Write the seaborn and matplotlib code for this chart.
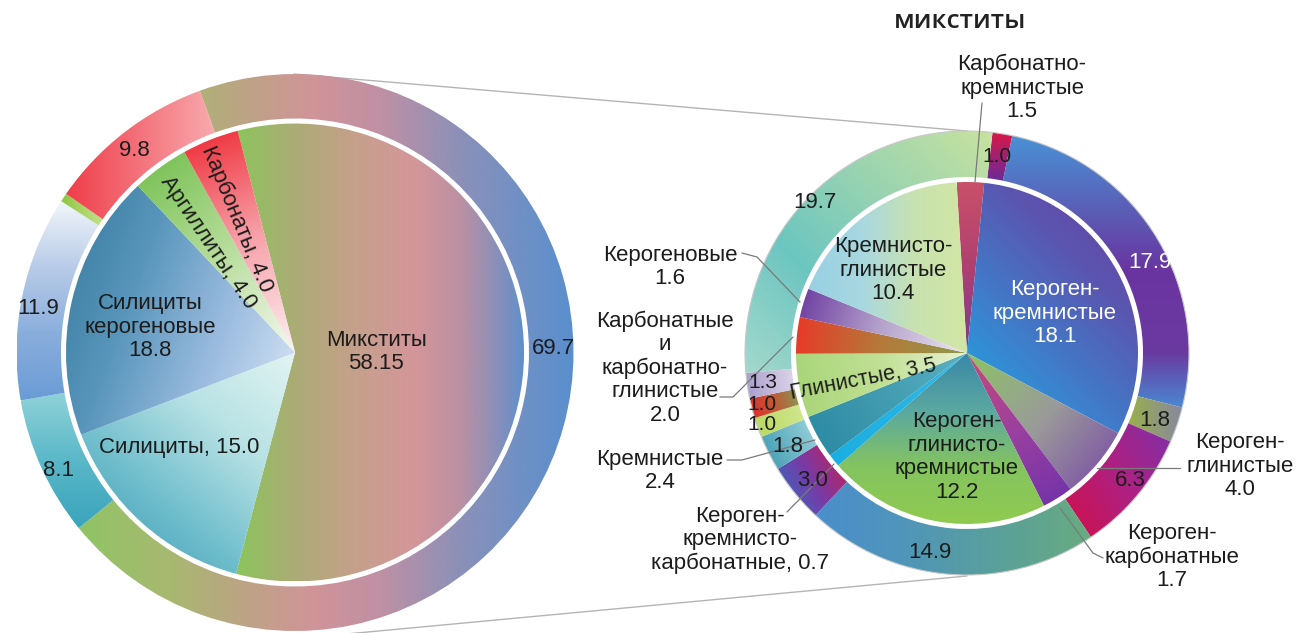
import numpy as np
import matplotlib
matplotlib.use("Agg")
import matplotlib.pyplot as plt
import seaborn as sns
from matplotlib.colors import LinearSegmentedColormap
from matplotlib.patches import Circle

# --- data -------------------------------------------------------------
left_inner_names = ["Микститы", "Силициты", "Силициты\nкерогеновые", "Аргиллиты", "Карбонаты"]
left_inner_values = [58.15, 15.0, 18.8, 4.0, 4.0]
left_outer_values = [69.7, 8.1, 11.9, 0.5, 9.8]

right_title = "микститы"
right_inner_names = ["Карбонатно-\nкремнистые", "Кероген-\nкремнистые", "Кероген-\nглинистые",
                     "Кероген-\nкарбонатные", "Кероген-\nглинисто-\nкремнистые",
                     "Кероген-\nкремнисто-\nкарбонатные", "Кремнистые", "Глинистые",
                     "Карбонатные\nи\nкарбонатно-\nглинистые", "Керогеновые",
                     "Кремнисто-\nглинистые"]
right_inner_values = [1.5, 18.1, 4.0, 1.7, 12.2, 0.7, 2.4, 3.5, 2.0, 1.6, 10.4]
right_outer_values = [1.0, 17.9, 1.8, 6.3, 14.9, 3.0, 1.8, 1.0, 1.0, 1.3, 19.7]

# --- style ------------------------------------------------------------
sns.set_theme(style="white")
plt.rcParams["font.family"] = ["Liberation Sans", "DejaVu Sans"]

W, H = 1297, 633


def px(x, y):
    # picture pixel coords -> data coords (y up)
    return x, H - y


def grad_fill(ax, patch, stops, angle):
    x0, y0, x1, y1 = patch.get_path().get_extents().extents
    X, Y = np.meshgrid(np.linspace(x0, x1, 160), np.linspace(y0, y1, 160))
    a = np.deg2rad(angle)
    p = X * np.cos(a) + Y * np.sin(a)
    t = (p - p.min()) / (p.max() - p.min() + 1e-9)
    cmap = LinearSegmentedColormap.from_list("g", stops)
    img = ax.imshow(cmap(t), extent=(x0, x1, y0, y1), origin="lower",
                    interpolation="bilinear", zorder=2)
    img.set_clip_path(patch)
    patch.set_facecolor("none")


# gradient styles (colours, direction in degrees)
left_inner_style = [
    ([(0, "#8cc45c"), (0.22, "#aeaa78"), (0.42, "#c6a08c"), (0.62, "#d4969a"),
      (0.78, "#bb90a2"), (0.9, "#8c90b8"), (1, "#5f8fcb")], 0),
    (["#3a98b0", "#6cbccb", "#b8e2e4", "#e2f4f2"], 50),
    (["#357a9c", "#5a96bc", "#9dbde0", "#dce8f5"], -20),
    (["#f4f8ef", "#b4dc98", "#72be4c"], 126),
    (["#fcf0f2", "#f7a0a8", "#ee2a34"], 112),
]
left_outer_style = [
    ([(0, "#90c466"), (0.18, "#a8b870"), (0.3, "#b8a880"), (0.47, "#d09498"),
      (0.61, "#c090a4"), (0.77, "#8c90b8"), (0.93, "#6890c8"), (1, "#5a8fcc")], 0),
    (["#90d2d8", "#5ab8c8", "#3aa4bc"], -90),
    (["#6a9cd6", "#8aaedc", "#b8cce8", "#f2f6fb"], 90),
    (["#8dc63f", "#c5e08c"], 0),
    (["#ef3e4a", "#f4737c", "#f8aaae"], 0),
]
right_inner_style = [
    (["#c8506a", "#b04070", "#7a3a90"], -90),
    (["#18aee6", "#3d80cc", "#5a56b0", "#6a3a9c"], 45),
    (["#8cc464", "#9a9a9a", "#7848a8"], -40),
    (["#c84a78", "#9a40a0", "#7032a8"], -58),
    (["#3a88a8", "#5aa8a0", "#84c460", "#90ca50"], -90),
    (["#1aaee0", "#30b8e8"], 0),
    (["#5ab0c0", "#2a88a2"], -150),
    (["#e8f2d0", "#c0e094", "#a8d478"], -170),
    (["#8e9a4c", "#b47a3a", "#e83a28"], 174),
    (["#ece8f2", "#b6a4cc", "#6c3ca0"], 163),
    (["#98d0e4", "#a8d8e0", "#c8e2b0", "#d2e6a4"], 0),
]
right_outer_style = [
    (["#d81848", "#6a2a98"], -90),
    ([(0, "#4a90d4"), (0.25, "#5a62b8"), (0.5, "#6a34a0"), (0.8, "#6a3aa0"), (1, "#4a88d2")], -90),
    (["#9ab04a", "#8888a0"], 0),
    (["#d0104a", "#b02080", "#8030a8"], 30),
    (["#4a8ecc", "#5096b8", "#5aa09a", "#68ac80"], 0),
    (["#2a70c8", "#7a3aa4", "#d01c4c"], 30),
    (["#9ed4dc", "#3a98b0"], -153),
    (["#d0e890", "#b8d860"], -160),
    (["#889a52", "#c05a36", "#e42a2a"], -166),
    (["#ddd6ea", "#a89ccc"], -172),
    (["#a4d8cc", "#6cc6c0", "#9cd4b0", "#c8e2a0"], 45),
]

CL = px(295, 352.5)
CR = px(967, 353)

fig = plt.figure(figsize=(W / 100, H / 100), dpi=100)
ax = fig.add_axes([0, 0, 1, 1])

# connecting lines
ax.plot(*zip(px(294, 74), px(967, 131)), color="#b4b4b4", lw=1, zorder=1)
ax.plot(*zip(px(250, 643), px(967, 576)), color="#b4b4b4", lw=1, zorder=1)

wl_in, _ = ax.pie(left_inner_values, radius=229, center=CL, startangle=104.5,
                  counterclock=False, wedgeprops=dict(linewidth=0))
wl_out, _ = ax.pie(left_outer_values, radius=278.5, center=CL, startangle=110,
                   counterclock=False, wedgeprops=dict(width=44.5, linewidth=0))
wr_in, _ = ax.pie(right_inner_values, radius=171, center=CR, startangle=93.5,
                  counterclock=False, wedgeprops=dict(linewidth=0))
wr_out, _ = ax.pie(right_outer_values, radius=222, center=CR, startangle=83.4,
                   counterclock=False, wedgeprops=dict(width=46, linewidth=0))

for wedges, styles in [(wl_in, left_inner_style), (wl_out, left_outer_style),
                       (wr_in, right_inner_style), (wr_out, right_outer_style)]:
    for w, (stops, ang) in zip(wedges, styles):
        grad_fill(ax, w, stops, ang)

ax.add_patch(Circle(CR, 222, fill=False, ec="#c8c8c8", lw=0.8, zorder=3))

# --- labels -------------------------------------------------------------
FS = 16
TXT = "#1c1c1c"

left_inner_layout = [((376, 352), "\n", 0), ((179, 447), ", ", 0), ((150, 327), "\n", 0),
                     ((208, 242), ", ", -56), ((237, 219), ", ", -67.5)]
for name, v, (pos, sep, rot) in zip(left_inner_names, left_inner_values, left_inner_layout):
    ax.text(*px(*pos), f"{name}{sep}{v:g}" if v == 58.15 else f"{name}{sep}{v:.1f}",
            ha="center", va="center", rotation=rot, rotation_mode="anchor",
            fontsize=FS, color=TXT, linespacing=1.15, zorder=5)

left_outer_layout = [(553, 348), (58, 470), (38, 308), None, (134, 150)]
for v, pos in zip(left_outer_values, left_outer_layout):
    if pos is None:
        continue
    ax.text(*px(*pos), f"{v:.1f}", ha="center", va="center", fontsize=FS, color=TXT, zorder=5)

ax.text(*px(960, 22), right_title, ha="center", va="center", fontsize=19,
        family=["Open Sans", "DejaVu Sans"], fontweight="semibold", color="#222222")

right_inner_layout = [((1022, 88), "\n", 0, TXT), ((1055, 313), "\n", 0, "white"),
                      ((1240, 466), "\n", 0, TXT), ((1172, 557), "\n", 0, TXT),
                      ((957, 457), "\n", 0, TXT), ((740, 540), ", ", 0, TXT),
                      ((660, 471), "\n", 0, TXT), ((863, 380), ", ", 11, TXT),
                      ((665, 368), "\n", 0, TXT), ((670, 267), "\n", 0, TXT),
                      ((893, 270), "\n", 0, TXT)]
for name, v, (pos, sep, rot, col) in zip(right_inner_names, right_inner_values, right_inner_layout):
    ax.text(*px(*pos), f"{name}{sep}{v:.1f}", ha="center", va="center", rotation=rot,
            rotation_mode="anchor", fontsize=FS - 0.5 if rot else FS, color=col,
            linespacing=1.15, zorder=5)

right_outer_layout = [((997, 157), True, TXT), ((1150, 262), False, "white"),
                      ((1155, 420), False, TXT), ((1130, 480), False, TXT),
                      ((930, 553), False, TXT), ((813, 480), False, TXT),
                      ((788, 446), False, TXT), ((762, 425), True, TXT),
                      ((762, 405), True, TXT), ((763, 383), True, TXT),
                      ((815, 203), False, TXT)]
for v, (pos, narrow, col) in zip(right_outer_values, right_outer_layout):
    fam = ["Liberation Sans Narrow", "Liberation Sans"] if narrow else ["Liberation Sans"]
    ax.text(*px(*pos), f"{v:.1f}", ha="center", va="center", fontsize=FS - 1 if narrow else FS,
            family=fam, color=col, zorder=5)

leaders = [[(982, 103), (975, 182)],
           [(742, 253), (757, 257), (800, 302)],
           [(720, 397), (733, 397), (793, 337)],
           [(727, 460), (742, 460), (815, 440)],
           [(787, 512), (834, 464)],
           [(1180, 468), (1097, 468)],
           [(1103, 558), (1093, 553), (1060, 508)]]
for pts in leaders:
    xs, ys = zip(*[px(*p) for p in pts])
    ax.plot(xs, ys, color="#7a7a7a", lw=0.9, zorder=4)

ax.set_xlim(0, W)
ax.set_ylim(0, H)
ax.set_aspect("equal")
ax.axis("off")

fig.savefig("out.png", dpi=100)
